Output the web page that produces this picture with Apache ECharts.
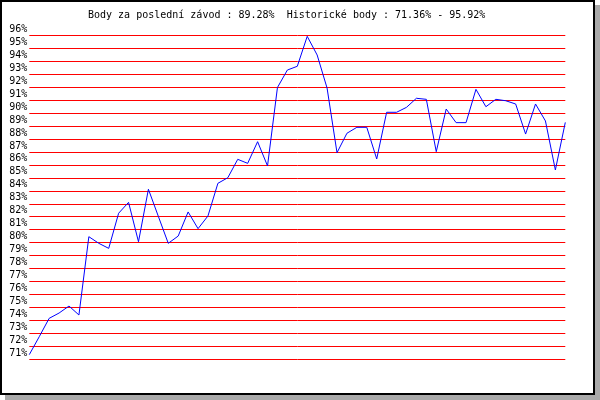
<!DOCTYPE html>
<html>
<head>
<meta charset="utf-8">
<script src="https://cdn.jsdelivr.net/npm/echarts@6/dist/echarts.min.js"></script>
<style>html,body{margin:0;padding:0;background:#fff}#c{width:600px;height:400px}</style>
</head>
<body>
<div id="c"></div>
<script>
const titleText = 'Body za poslední závod : 89.28%  Historické body : 71.36% - 95.92%';
const races = Array.from({length: 55}, (_, i) => String(i + 1));
const points = [71.36, 72.74, 74.16, 74.57, 75.11, 74.42, 80.46, 79.95, 79.56, 82.27,
  83.11, 80.07, 84.12, 82.03, 79.95, 80.51, 82.37, 81.08, 82.06, 84.58,
  85.01, 86.43, 86.12, 87.79, 85.92, 91.97, 93.32, 93.61, 95.92, 94.48,
  91.93, 86.94, 88.44, 88.9, 88.9, 86.46, 90.06, 90.06, 90.44, 91.14,
  91.06, 87.02, 90.31, 89.26, 89.26, 91.83, 90.49, 91.06, 90.95, 90.7,
  88.38, 90.7, 89.39, 85.61, 89.28];
const yMin = 71, yMax = 96, yStep = 1;

const chart = echarts.init(document.getElementById('c'), null, {renderer: 'canvas'});
chart.setOption({
  backgroundColor: '#ffffff',
  animation: false,
  title: {
    text: titleText,
    left: 83, top: 5,
    textStyle: {fontFamily: 'DejaVu Sans Mono', fontSize: 10, fontWeight: 'normal', color: '#000'}
  },
  graphic: [
    {type: 'rect', shape: {x: 595, y: 5, width: 5, height: 395}, style: {fill: '#a9a9a9'}, silent: true},
    {type: 'rect', shape: {x: 5, y: 395, width: 595, height: 5}, style: {fill: '#a9a9a9'}, silent: true},
    {type: 'rect', shape: {x: 1, y: 1, width: 593, height: 393}, style: {fill: 'none', stroke: '#000', lineWidth: 2}, silent: true}
  ],
  grid: {left: 29.3, right: 34.7, top: 35.3, bottom: 40.7, containLabel: false},
  xAxis: {
    type: 'category', data: races, boundaryGap: false,
    axisLine: {show: false}, axisTick: {show: false}, axisLabel: {show: false}, splitLine: {show: false}
  },
  yAxis: {
    type: 'value', min: yMin, max: yMax, interval: yStep,
    axisLine: {show: false}, axisTick: {show: false},
    axisLabel: {
      formatter: '{value}%', margin: 2, color: '#000',
      fontFamily: 'DejaVu Sans Mono', fontSize: 10,
      verticalAlign: 'bottom', lineHeight: 12
    },
    splitLine: {show: true, lineStyle: {color: '#ff0000', width: 1}}
  },
  series: [{
    type: 'line', data: points, showSymbol: false, symbol: 'none',
    lineStyle: {color: '#0000ff', width: 1}, smooth: false
  }]
});
</script>
</body>
</html>
